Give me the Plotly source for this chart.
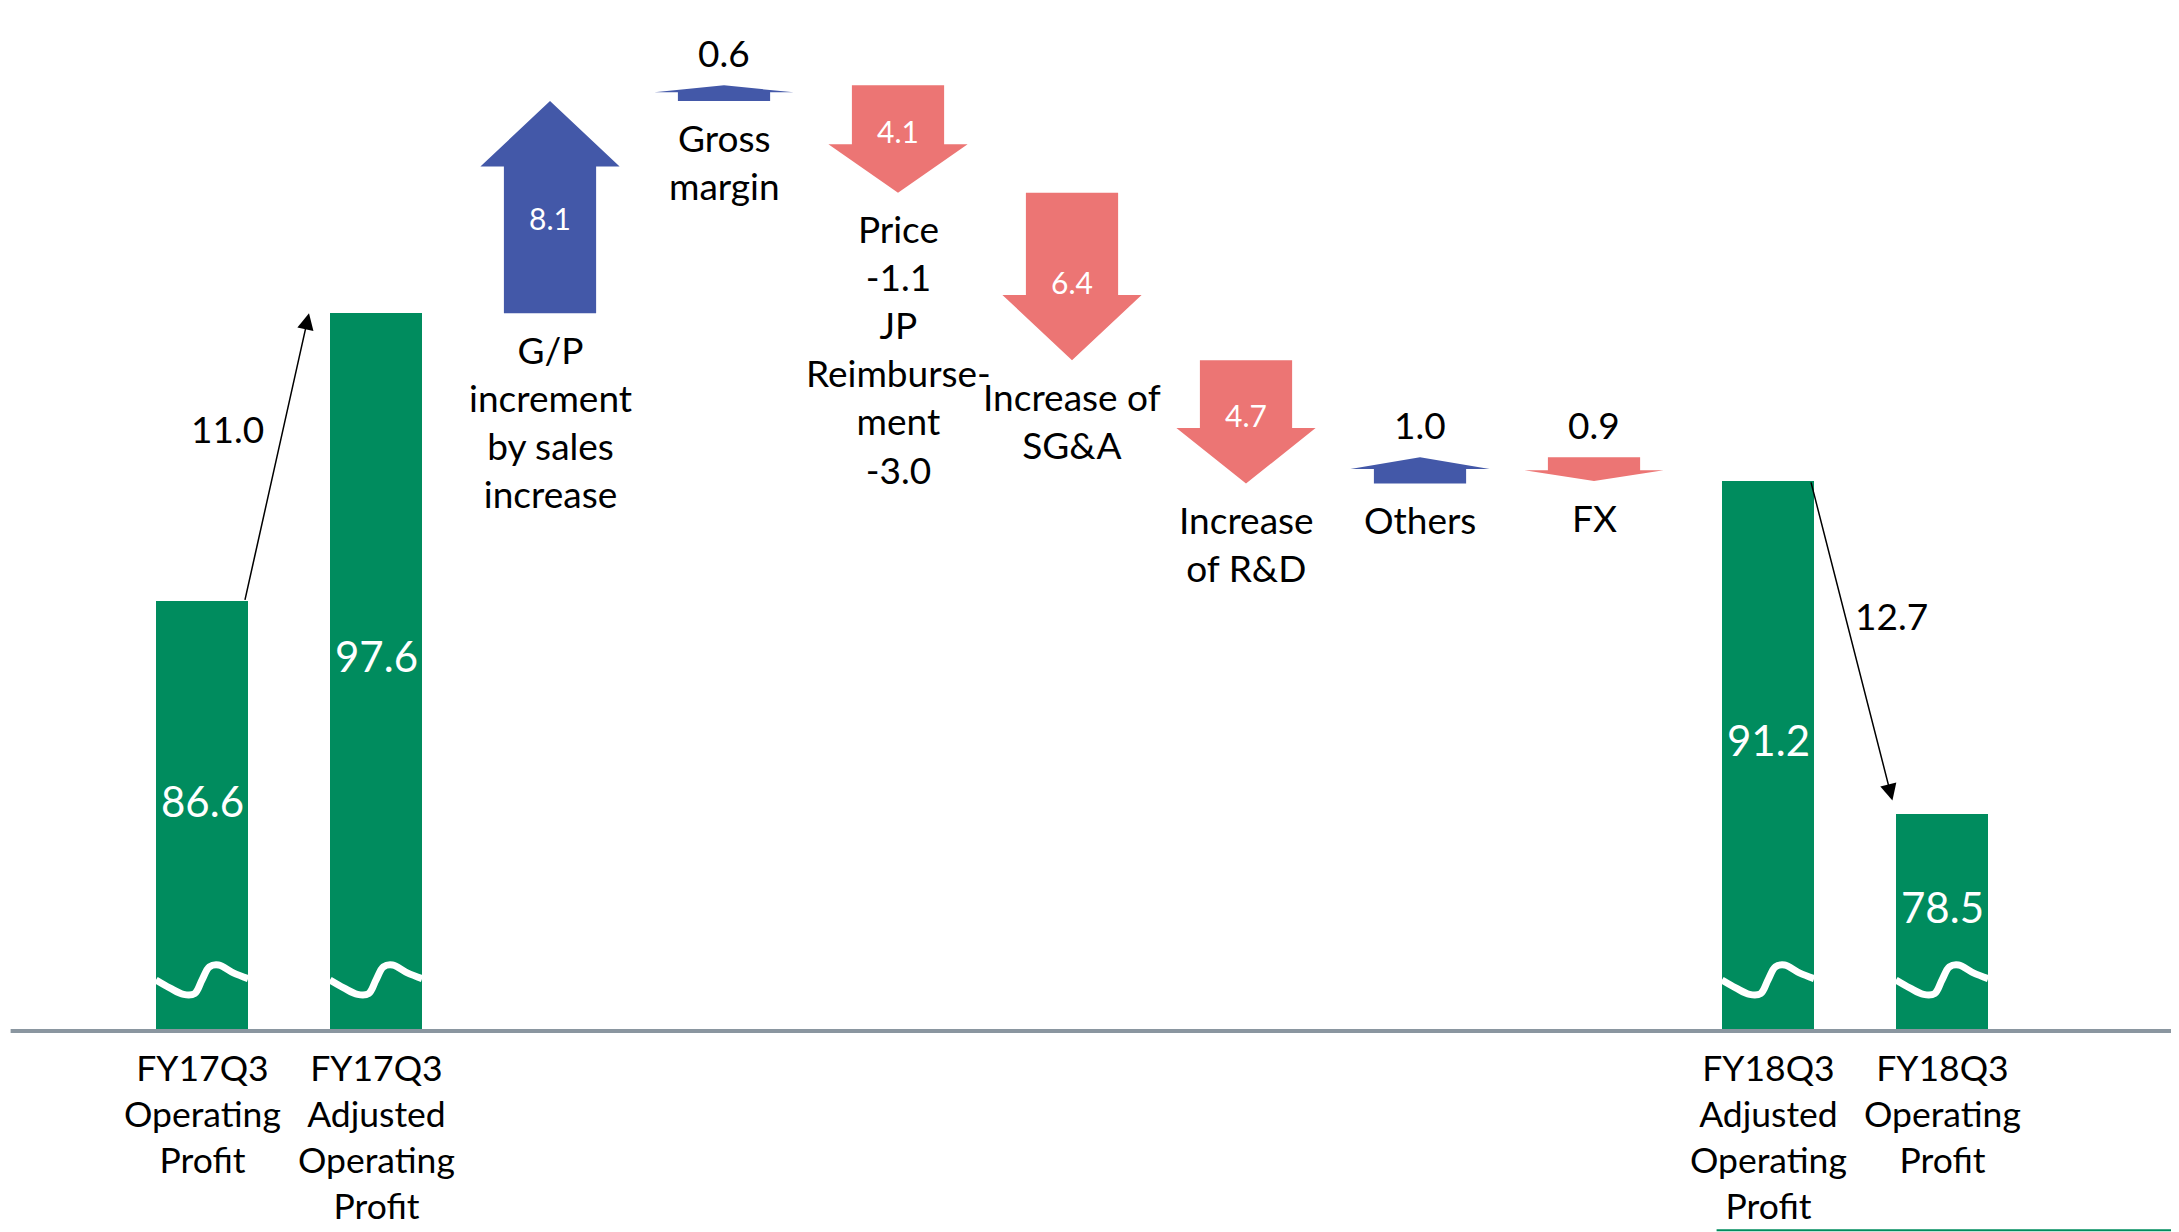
import plotly.graph_objects as go

# ---------------- data ----------------
TOTAL_NAMES = ["FY17Q3<br>Operating<br>Profit",
               "FY17Q3<br>Adjusted<br>Operating<br>Profit",
               "FY18Q3<br>Adjusted<br>Operating<br>Profit",
               "FY18Q3<br>Operating<br>Profit"]
TOTAL_VALUES = [86.6, 97.6, 91.2, 78.5]
TOTAL_SLOTS = [0, 1, 9, 10]

CHANGE_NAMES = ["G/P<br>increment<br>by sales<br>increase",
                "Gross<br>margin",
                "Price<br>-1.1<br>JP<br>Reimburse-<br>ment<br>-3.0",
                "Increase of<br>SG&A",
                "Increase<br>of R&D",
                "Others",
                "FX"]
CHANGE_VALUES = [8.1, 0.6, -4.1, -6.4, -4.7, 1.0, -0.9]
CHANGE_SLOTS = [2, 3, 4, 5, 6, 7, 8]

ADJUST_VALUES = [11.0, 12.7]      # FY17Q3 OP -> adjusted, FY18Q3 adjusted -> OP

AXIS_BREAK = 70.2                 # value where the truncated bars meet the base line

# ---------------- styles ----------------
GREEN = "#008C5E"
BLUE = "#4358A8"
RED = "#EC7574"
GREY = "#8A96A0"
FONT = "Lato"
LABEL_SIZE = 37
BOTTOM_SIZE = 35.5
BAR_W = 0.53
SHAFT_W = 0.53
HEAD_W = 0.80
ADJ_LABEL_T = [0.6, 0.42]
ADJ_LABEL_SIDE = [-0.32, 0.27]

fig = go.Figure()

# green total bars (truncated at the axis break)
fig.add_trace(go.Bar(
    x=TOTAL_SLOTS,
    y=[v - AXIS_BREAK for v in TOTAL_VALUES],
    base=AXIS_BREAK,
    width=BAR_W,
    marker=dict(color=GREEN, line=dict(width=0)),
    hoverinfo="skip",
))

# white break marks on the bars
wave_fx = [0.0, 0.15, 0.30, 0.42, 0.50, 0.58, 0.68, 0.84, 1.0]
wave_dy = [1.95, 1.65, 1.40, 1.43, 1.95, 2.45, 2.52, 2.22, 2.00]
for s in TOTAL_SLOTS:
    fig.add_trace(go.Scatter(
        x=[s - BAR_W / 2 + f * BAR_W for f in wave_fx],
        y=[AXIS_BREAK + d for d in wave_dy],
        mode="lines",
        line=dict(color="white", width=7, shape="spline"),
        hoverinfo="skip",
    ))

# waterfall arrows
annotations = []
level = TOTAL_VALUES[1]
for name, val, slot in zip(CHANGE_NAMES, CHANGE_VALUES, CHANGE_SLOTS):
    y0 = level
    y1 = level + val
    head = min(2.5, 0.45 * abs(val))
    sgn = 1 if val > 0 else -1
    yh = y1 - sgn * head
    xs = [slot - SHAFT_W / 2, slot + SHAFT_W / 2, slot + SHAFT_W / 2,
          slot + HEAD_W / 2, slot, slot - HEAD_W / 2, slot - SHAFT_W / 2,
          slot - SHAFT_W / 2]
    ys = [y0, y0, yh, yh, y1, yh, yh, y0]
    color = BLUE if val > 0 else RED
    fig.add_trace(go.Scatter(
        x=xs, y=ys, mode="lines", fill="toself", fillcolor=color,
        line=dict(width=0, color=color), hoverinfo="skip",
    ))
    txt = f"{abs(val):.1f}"
    if abs(val) >= 2:
        if val > 0:
            ty = y0 + 0.65 * (yh - y0)
        else:
            ty = yh + 0.5
        annotations.append(dict(x=slot, y=ty, text=txt, showarrow=False,
                                font=dict(family=FONT, size=30, color="white"),
                                xanchor="center", yanchor="middle"))
    else:
        annotations.append(dict(x=slot, y=max(y0, y1) + 0.3, text=txt,
                                showarrow=False,
                                font=dict(family=FONT, size=LABEL_SIZE, color="black"),
                                xanchor="center", yanchor="bottom"))
    annotations.append(dict(x=slot, y=min(y0, y1) - 0.45, text=name,
                            showarrow=False,
                            font=dict(family=FONT, size=LABEL_SIZE, color="black"),
                            xanchor="center", yanchor="top"))
    level = y1

# values inside the green bars and the names below the axis
for name, val, slot in zip(TOTAL_NAMES, TOTAL_VALUES, TOTAL_SLOTS):
    annotations.append(dict(x=slot, y=(val + AXIS_BREAK) / 2 + 0.6,
                            text=f"{val:.1f}", showarrow=False,
                            font=dict(family=FONT, size=42, color="white"),
                            xanchor="center", yanchor="middle"))
    annotations.append(dict(x=slot, y=AXIS_BREAK - 0.5, text=name,
                            showarrow=False,
                            font=dict(family=FONT, size=BOTTOM_SIZE, color="black"),
                            xanchor="center", yanchor="top"))

# adjustment arrows between the green bars
pairs = [(0, 1), (2, 3)]
for i, ((a, b), adj) in enumerate(zip(pairs, ADJUST_VALUES)):
    xa = TOTAL_SLOTS[a] + BAR_W / 2 - 0.02
    ya = TOTAL_VALUES[a]
    rising = ya < TOTAL_VALUES[b]
    xb = TOTAL_SLOTS[b] - BAR_W / 2 - (0.12 if rising else 0.02)
    yb = TOTAL_VALUES[b] + (0 if rising else 0.5)
    annotations.append(dict(x=xb, y=yb, ax=xa, ay=ya, xref="x", yref="y",
                            axref="x", ayref="y", text="", showarrow=True,
                            arrowhead=2, arrowsize=2.2, arrowwidth=1.5,
                            arrowcolor="black", standoff=0))
    t = ADJ_LABEL_T[i]
    ym = ya + t * (yb - ya)
    xm = xa + t * (xb - xa)
    annotations.append(dict(x=xm + ADJ_LABEL_SIDE[i], y=ym, text=f"{adj:.1f}",
                            showarrow=False,
                            font=dict(family=FONT, size=LABEL_SIZE, color="black"),
                            xanchor="center", yanchor="middle"))

shapes = [
    dict(type="line", xref="x", yref="y", x0=-1.10, x1=11.35,
         y0=AXIS_BREAK, y1=AXIS_BREAK, line=dict(color=GREY, width=4),
         layer="above"),
    dict(type="line", xref="paper", yref="paper", x0=0.787, x1=1.0,
         y0=0.0015, y1=0.0015, line=dict(color=GREEN, width=2)),
]

# the page body adds an 8 px margin, so the figure is 8 px smaller than the window
fig.update_layout(
    width=2171, height=1224,
    margin=dict(l=0, r=0, t=0, b=0),
    paper_bgcolor="white", plot_bgcolor="white",
    showlegend=False,
    xaxis=dict(range=[-1.115, 11.362], visible=False, fixedrange=True),
    yaxis=dict(range=[62.53, 109.25], visible=False, fixedrange=True),
    annotations=annotations,
    shapes=shapes,
    bargap=0,
)

fig.write_html("out.html", config={"displayModeBar": False})
